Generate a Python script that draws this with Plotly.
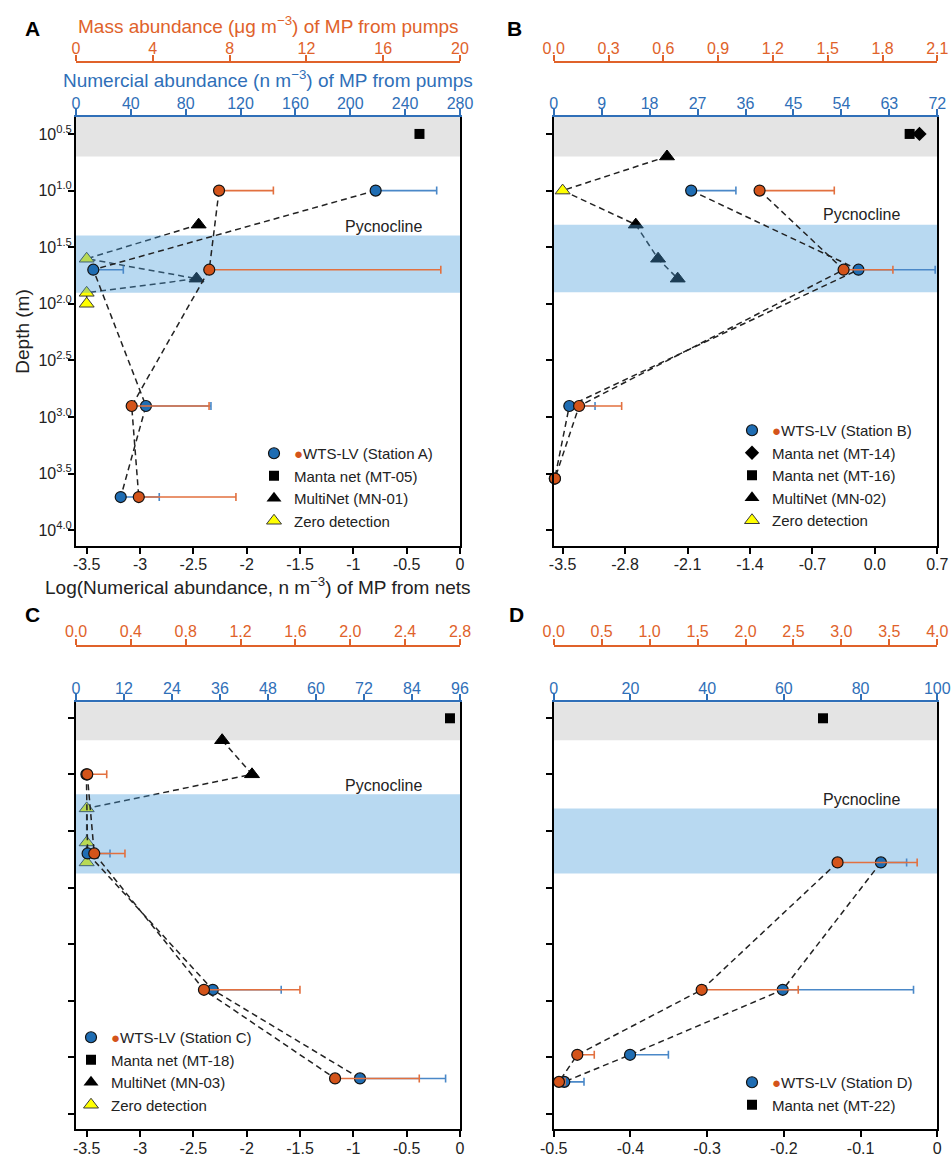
import numpy as np
import plotly.graph_objects as go

# ---------------- DATA ----------------
# Depth tick marks (m) shown on every panel
depth_tick_logs = [0.5, 1.0, 1.5, 2.0, 2.5, 3.0, 3.5, 4.0]
depth_tick_text = ["10<sup>%.1f</sup>" % v for v in depth_tick_logs]

# ---- Station A ----
A_manta_depth = [3.16]
A_manta_log = [-0.38]
A_multinet_depth = [20, 40, 60, 80, 100]
A_multinet_log = [-2.45, -3.5, -2.47, -3.5, -3.5]
A_multinet_zero = [False, True, False, True, True]
A_wts_depth = [10, 50, 800, 5100]
A_wts_num = [218.5, 12.6, 51.0, 32.6]
A_wts_num_upper = [263.0, 34.5, 98.4, 60.7]
A_wts_mass = [7.45, 6.94, 2.90, 3.27]
A_wts_mass_upper = [10.28, 19.0, 6.93, 8.33]
A_pycnocline = [25, 80]

# ---- Station B ----
B_manta14_depth = [3.16]
B_manta14_log = [0.50]
B_manta16_depth = [3.16]
B_manta16_log = [0.39]
B_multinet_depth = [5, 10, 20, 40, 60]
B_multinet_log = [-2.33, -3.5, -2.68, -2.43, -2.21]
B_multinet_zero = [False, True, False, False, False]
B_wts_depth = [10, 50, 800, 3500]
B_wts_num = [25.8, 57.2, 2.93, 0.2]
B_wts_num_upper = [34.2, 71.6, 7.76, 0.2]
B_wts_mass = [1.127, 1.587, 0.139, 0.007]
B_wts_mass_upper = [1.536, 1.857, 0.372, 0.007]
B_pycnocline = [20, 79]

# ---- Station C ----
C_manta_depth = [3.2]
C_manta_log = [-0.094]
C_multinet_depth = [5, 10, 20, 40, 60]
C_multinet_log = [-2.23, -1.95, -3.5, -3.5, -3.5]
C_multinet_zero = [False, False, True, True, True]
C_wts_depth = [10, 50, 800, 4850]
C_wts_num = [2.6, 2.9, 34.2, 71.0]
C_wts_num_upper = [2.6, 8.5, 51.3, 92.4]
C_wts_mass = [0.082, 0.133, 0.933, 1.889]
C_wts_mass_upper = [0.224, 0.357, 1.633, 2.503]
C_pycnocline = [15, 75]

# ---- Station D ----
D_manta_depth = [3.2]
D_manta_log = [-0.149]
D_wts_depth = [60, 800, 3000, 5200]
D_wts_num = [85.3, 59.7, 19.9, 2.76]
D_wts_num_upper = [92.0, 93.8, 29.9, 7.9]
D_wts_mass = [2.96, 1.543, 0.246, 0.055]
D_wts_mass_upper = [3.79, 2.55, 0.423, 0.118]
D_pycnocline = [20, 75]

surface_layer = [1, 5]  # grey surface band (m)

# ---------------- STYLE ----------------
W, H = 951, 1155
FONT = "Arial, Liberation Sans, sans-serif"
BLUE = "#1f6db3"
BLUE_AX = "#2f6fb8"
BLUE_ERR = "#4a88c8"
ORANGE = "#d4541a"
ORANGE_AX = "#e0622a"
ORANGE_ERR = "#e2703f"
BAND_FILL = "rgba(72,156,218,0.39)"
GREY_BAND = "#e4e4e4"
DASH = dict(color="#222222", width=1.5, dash="6px,4px")


def px_x(px):
    return px / W


def px_y(py):
    return 1 - py / H


panels = [
    dict(key="A", xdom=(76, 460), ydom=(117, 546), orange_pos=62, yrange=(4.14, 0.35),
         xrange=(-3.6, 0.0), xticks=[-3.5, -3, -2.5, -2, -1.5, -1, -0.5, 0],
         xticktext=["-3.5", "-3", "-2.5", "-2", "-1.5", "-1", "-0.5", "0"],
         blue_range=(0, 280), blue_dtick=40, blue_fmt="d",
         orange_range=(0, 20), orange_dtick=4, orange_fmt="d",
         manta=[(A_manta_depth, A_manta_log, "square", "Manta net (MT-05)")],
         multinet=(A_multinet_depth, A_multinet_log, A_multinet_zero, "MultiNet (MN-01)"),
         wts=(A_wts_depth, A_wts_num, A_wts_num_upper, A_wts_mass, A_wts_mass_upper),
         pyc=A_pycnocline, pyc_label=(383, 226),
         legend_pos=(254, 437), letter_pos=(32, 29)),
    dict(key="B", xdom=(553.7, 937.3), ydom=(117, 546), orange_pos=62, yrange=(4.14, 0.35),
         xrange=(-3.6, 0.7), xticks=[-3.5, -2.8, -2.1, -1.4, -0.7, 0.0, 0.7],
         xticktext=["-3.5", "-2.8", "-2.1", "-1.4", "-0.7", "0.0", "0.7"],
         blue_range=(0, 72), blue_dtick=9, blue_fmt="d",
         orange_range=(0, 2.1), orange_dtick=0.3, orange_fmt=".1f",
         manta=[(B_manta16_depth, B_manta16_log, "square", "Manta net (MT-16)"),
                (B_manta14_depth, B_manta14_log, "diamond", "Manta net (MT-14)")],
         multinet=(B_multinet_depth, B_multinet_log, B_multinet_zero, "MultiNet (MN-02)"),
         wts=(B_wts_depth, B_wts_num, B_wts_num_upper, B_wts_mass, B_wts_mass_upper),
         pyc=B_pycnocline, pyc_label=(861, 214),
         legend_pos=(732, 414), letter_pos=(514, 29)),
    dict(key="C", xdom=(76, 460), ydom=(702.3, 1129.3), orange_pos=645.7, yrange=(4.135, 0.364),
         xrange=(-3.6, 0.0), xticks=[-3.5, -3, -2.5, -2, -1.5, -1, -0.5, 0],
         xticktext=["-3.5", "-3", "-2.5", "-2", "-1.5", "-1", "-0.5", "0"],
         blue_range=(0, 96), blue_dtick=12, blue_fmt="d",
         orange_range=(0, 2.8), orange_dtick=0.4, orange_fmt=".1f",
         manta=[(C_manta_depth, C_manta_log, "square", "Manta net (MT-18)")],
         multinet=(C_multinet_depth, C_multinet_log, C_multinet_zero, "MultiNet (MN-03)"),
         wts=(C_wts_depth, C_wts_num, C_wts_num_upper, C_wts_mass, C_wts_mass_upper),
         pyc=C_pycnocline, pyc_label=(383, 785),
         legend_pos=(71, 1021), letter_pos=(32, 614)),
    dict(key="D", xdom=(553.7, 937.3), ydom=(702.3, 1129.3), orange_pos=645.7, yrange=(4.135, 0.364),
         xrange=(-0.5, 0.0), xticks=[-0.5, -0.4, -0.3, -0.2, -0.1, 0],
         xticktext=["-0.5", "-0.4", "-0.3", "-0.2", "-0.1", "0"],
         blue_range=(0, 100), blue_dtick=20, blue_fmt="d",
         orange_range=(0, 4.0), orange_dtick=0.5, orange_fmt=".1f",
         manta=[(D_manta_depth, D_manta_log, "square", "Manta net (MT-22)")],
         multinet=None,
         wts=(D_wts_depth, D_wts_num, D_wts_num_upper, D_wts_mass, D_wts_mass_upper),
         pyc=D_pycnocline, pyc_label=(861, 799),
         legend_pos=(732, 1066), letter_pos=(516, 614)),
]

fig = go.Figure()
layout = dict(
    width=W, height=H, margin=dict(l=0, r=0, t=0, b=0, autoexpand=False),
    paper_bgcolor="white", plot_bgcolor="white",
    font=dict(family=FONT, size=16, color="#222"),
    showlegend=True, shapes=[], annotations=[],
)


def axname(prefix, n):
    return prefix if n == 1 else f"{prefix}{n}"


tick_font = dict(family=FONT, size=16)


def ann(text, x, y, size, color, bold=False):
    return dict(text=("<b>%s</b>" % text) if bold else text, x=px_x(x), y=px_y(y),
                xref="paper", yref="paper", xanchor="center", yanchor="middle",
                showarrow=False, font=dict(family=FONT, size=size, color=color))


for i, p in enumerate(panels):
    n = i + 1
    xb, xbl, xor = 3 * i + 1, 3 * i + 2, 3 * i + 3
    xb_id, xbl_id, xor_id = axname("x", xb), axname("x", xbl), axname("x", xor)
    y_id = axname("y", n)
    legend_id = axname("legend", n)
    xd = [px_x(p["xdom"][0]), px_x(p["xdom"][1])]
    yd = [px_y(p["ydom"][1]), px_y(p["ydom"][0])]

    # bottom (nets, log abundance) axis
    layout[axname("xaxis", xb)] = dict(
        domain=xd, anchor=y_id, range=list(p["xrange"]), tickvals=p["xticks"],
        ticktext=p["xticktext"], showline=True, linecolor="black", linewidth=2,
        ticks="outside", ticklen=6, tickwidth=1.5, tickcolor="black", automargin=False,
        ticklabelstandoff=-3,
        showgrid=False, zeroline=False, tickfont=dict(tick_font, color="#222"),
    )
    # blue numerical pumps axis
    layout[axname("xaxis", xbl)] = dict(
        overlaying=xb_id, side="top", anchor=y_id, range=list(p["blue_range"]),
        dtick=p["blue_dtick"], tick0=0, tickformat=p["blue_fmt"], showline=True,
        linecolor=BLUE_AX, linewidth=2, ticks="outside", ticklen=6, tickwidth=1.5,
        tickcolor=BLUE_AX, showgrid=False, zeroline=False, automargin=False,
        ticklabelstandoff=-6, tickfont=dict(tick_font, color=BLUE_AX),
    )
    # orange mass pumps axis
    layout[axname("xaxis", xor)] = dict(
        overlaying=xb_id, side="top", anchor="free", position=px_y(p["orange_pos"]),
        range=list(p["orange_range"]), dtick=p["orange_dtick"], tick0=0,
        tickformat=p["orange_fmt"], showline=True, linecolor=ORANGE_AX, linewidth=2,
        ticks="outside", ticklen=6, tickwidth=1.5, tickcolor=ORANGE_AX, automargin=False,
        ticklabelstandoff=-5,
        showgrid=False, zeroline=False, tickfont=dict(tick_font, color=ORANGE_AX),
    )
    # depth axis (log)
    layout[axname("yaxis", n)] = dict(
        domain=yd, anchor=xb_id, type="log", range=list(p["yrange"]),
        tickvals=[10 ** v for v in depth_tick_logs], ticktext=depth_tick_text,
        showticklabels=(i == 0), showline=True, mirror=True, linecolor="black",
        linewidth=2, ticks="outside", ticklen=6, tickwidth=1.5, tickcolor="black",
        showgrid=False, zeroline=False, automargin=False, ticklabelstandoff=-7,
        tickfont=dict(tick_font, color="#222"),
    )
    if i == 0:
        layout["yaxis"]["title"] = dict(text="Depth (m)", font=dict(family=FONT, size=19, color="#222"),
                                        standoff=4)

    x0, x1 = p["xrange"]
    # grey surface band
    s0, s1 = surface_layer
    fig.add_trace(go.Scatter(
        x=[x0, x1, x1, x0, x0], y=[s0, s0, s1, s1, s0], xaxis=xb_id, yaxis=y_id,
        mode="lines", fill="toself", fillcolor=GREY_BAND, line=dict(width=0),
        showlegend=False, hoverinfo="skip"))

    # MultiNet profile (drawn under the translucent pycnocline band)
    if p["multinet"] is not None:
        mdepth, mlog, mzero, mname = p["multinet"]
        colors = ["#ffff00" if z else "#000000" for z in mzero]
        lcolors = ["#3a3a3a" if z else "#000000" for z in mzero]
        fig.add_trace(go.Scatter(
            x=mlog, y=mdepth, xaxis=xb_id, yaxis=y_id, mode="lines+markers",
            line=DASH, marker=dict(symbol="triangle-up", size=13, color=colors,
                                   line=dict(color=lcolors, width=1)),
            cliponaxis=False, showlegend=False, hoverinfo="skip"))

    # pycnocline band as translucent fill over the net markers
    ptop, pbot = p["pyc"]
    fig.add_trace(go.Scatter(
        x=[x0, x1, x1, x0, x0], y=[ptop, ptop, pbot, pbot, ptop], xaxis=xb_id, yaxis=y_id,
        mode="lines", fill="toself", fillcolor=BAND_FILL, line=dict(width=0),
        showlegend=False, hoverinfo="skip"))

    # Manta net surface samples
    for mdepth, mlog, sym, mname in p["manta"]:
        fig.add_trace(go.Scatter(
            x=mlog, y=mdepth, xaxis=xb_id, yaxis=y_id, mode="markers",
            marker=dict(symbol=sym, size=10 if sym == "square" else 11, color="black",
                        line=dict(width=0)),
            cliponaxis=False, showlegend=False, hoverinfo="skip"))

    # WTS-LV pumps
    wdepth, wnum, wnum_up, wmass, wmass_up = p["wts"]
    fig.add_trace(go.Scatter(
        x=wnum, y=wdepth, xaxis=xbl_id, yaxis=y_id, mode="lines+markers",
        line=DASH,
        marker=dict(symbol="circle", size=11, color=BLUE, line=dict(color="#111", width=1.2)),
        error_x=dict(type="data", symmetric=False,
                     array=list(np.array(wnum_up) - np.array(wnum)),
                     arrayminus=[0] * len(wnum), color=BLUE_ERR, thickness=1.6, width=4),
        cliponaxis=False, showlegend=False, hoverinfo="skip"))
    fig.add_trace(go.Scatter(
        x=wmass, y=wdepth, xaxis=xor_id, yaxis=y_id, mode="lines+markers",
        line=DASH,
        marker=dict(symbol="circle", size=11, color=ORANGE, line=dict(color="#111", width=1.2)),
        error_x=dict(type="data", symmetric=False,
                     array=list(np.array(wmass_up) - np.array(wmass)),
                     arrayminus=[0] * len(wmass), color=ORANGE_ERR, thickness=1.6, width=4),
        cliponaxis=False, showlegend=False, hoverinfo="skip"))

    # ---- legend entries (legend-only traces) ----
    fig.add_trace(go.Scatter(
        x=[None], y=[None], xaxis=xb_id, yaxis=y_id, mode="markers", legend=legend_id,
        name=f'<span style="color:{ORANGE}">●</span>WTS-LV (Station {p["key"]})',
        marker=dict(symbol="circle", size=11, color=BLUE, line=dict(color="#111", width=1.2))))
    for mdepth, mlog, sym, mname in sorted(p["manta"], key=lambda t: t[3]):
        fig.add_trace(go.Scatter(
            x=[None], y=[None], xaxis=xb_id, yaxis=y_id, mode="markers", legend=legend_id,
            name=mname, marker=dict(symbol=sym, size=10 if sym == "square" else 11,
                                    color="black", line=dict(width=0))))
    if p["multinet"] is not None:
        fig.add_trace(go.Scatter(
            x=[None], y=[None], xaxis=xb_id, yaxis=y_id, mode="markers", legend=legend_id,
            name=p["multinet"][3],
            marker=dict(symbol="triangle-up", size=13, color="black", line=dict(width=0))))
        fig.add_trace(go.Scatter(
            x=[None], y=[None], xaxis=xb_id, yaxis=y_id, mode="markers", legend=legend_id,
            name="Zero detection",
            marker=dict(symbol="triangle-up", size=13, color="#ffff00",
                        line=dict(color="#3a3a3a", width=1))))
    layout[legend_id] = dict(
        x=px_x(p["legend_pos"][0]), y=px_y(p["legend_pos"][1]), xanchor="left", yanchor="top",
        bgcolor="rgba(0,0,0,0)", font=dict(family=FONT, size=15, color="#222"),
        tracegroupgap=0, traceorder="normal", itemclick=False)

    # ---- annotations ----
    layout["annotations"].append(ann("Pycnocline", p["pyc_label"][0], p["pyc_label"][1], 16, "#222"))
    layout["annotations"].append(ann(p["key"], p["letter_pos"][0], p["letter_pos"][1], 21, "black", bold=True))

# axis titles of panel A
layout["annotations"] += [
    ann("Mass abundance (μg m<sup>−3</sup>) of MP from pumps", 268, 25, 19, ORANGE_AX),
    ann("Numercial abundance (n m<sup>−3</sup>) of MP from pumps", 268, 79, 19, BLUE_AX),
    ann("Log(Numerical abundance, n m<sup>−3</sup>) of MP from nets", 258, 586, 19, "#222"),
]

fig.update_layout(**layout)
fig.write_html("out.html", config={"displayModeBar": False},
               post_script="document.body.style.margin='0px';")
